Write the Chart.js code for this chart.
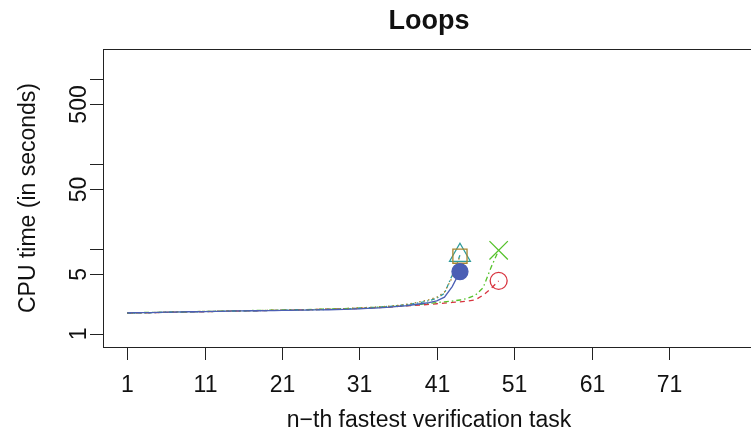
<!DOCTYPE html>
<html>
<head>
<meta charset="utf-8">
<script src="https://cdn.jsdelivr.net/npm/chart.js@4/dist/chart.umd.min.js"></script>
<style>
  html, body { margin: 0; padding: 0; background: #fff; overflow: hidden; }
  .contenedor { width: 770px; height: 435px; }
</style>
</head>
<body>
<div class="contenedor"><canvas id="myChart" width="770" height="435"></canvas></div>
<script>
//DATOS
const titulo = 'Loops';
const tituloX = 'n\u2212th fastest verification task';
const tituloY = 'CPU time (in seconds)';
const ticksX = [1, 11, 21, 31, 41, 51, 61, 71];
const ticksY = [1, 5, 10, 50, 100, 500, 1000];
const etiquetasY = [1, 5, 50, 500];

// tiempos ordenados, una lista por herramienta
const tiemposAzul = [
  1.76, 1.77, 1.78, 1.78, 1.79, 1.80, 1.80, 1.81, 1.82, 1.82,
  1.83, 1.84, 1.84, 1.85, 1.86, 1.86, 1.87, 1.87, 1.88, 1.88,
  1.89, 1.89, 1.90, 1.90, 1.91, 1.91, 1.92, 1.93, 1.94, 1.95,
  1.97, 1.99, 2.01, 2.03, 2.06, 2.10, 2.14, 2.20, 2.26, 2.33,
  2.45, 2.70, 3.60, 5.40
];
const tiemposNaranja = [
  1.75, 1.76, 1.77, 1.78, 1.79, 1.80, 1.81, 1.81, 1.82, 1.83,
  1.84, 1.84, 1.85, 1.86, 1.86, 1.87, 1.88, 1.88, 1.89, 1.90,
  1.90, 1.91, 1.92, 1.92, 1.93, 1.94, 1.95, 1.96, 1.98, 2.00,
  2.02, 2.04, 2.06, 2.09, 2.12, 2.16, 2.22, 2.30, 2.40, 2.52,
  2.70, 3.10, 4.60, 8.20
];
const tiemposTurquesa = [
  1.75, 1.76, 1.77, 1.77, 1.78, 1.79, 1.80, 1.80, 1.81, 1.82,
  1.83, 1.83, 1.84, 1.85, 1.85, 1.86, 1.87, 1.87, 1.88, 1.89,
  1.89, 1.90, 1.91, 1.91, 1.92, 1.93, 1.94, 1.95, 1.96, 1.98,
  2.00, 2.02, 2.05, 2.08, 2.11, 2.15, 2.20, 2.27, 2.35, 2.46,
  2.62, 3.00, 4.90, 8.40
];
const tiemposVerde = [
  1.76, 1.77, 1.78, 1.79, 1.79, 1.80, 1.81, 1.82, 1.82, 1.83,
  1.84, 1.84, 1.85, 1.86, 1.87, 1.87, 1.88, 1.89, 1.89, 1.90,
  1.91, 1.92, 1.92, 1.93, 1.94, 1.95, 1.96, 1.97, 1.98, 1.99,
  2.01, 2.03, 2.05, 2.07, 2.09, 2.12, 2.15, 2.19, 2.23, 2.28,
  2.33, 2.38, 2.43, 2.50, 2.62, 2.85, 3.50, 6.00, 9.60
];
const tiemposRojo = [
  1.75, 1.76, 1.77, 1.77, 1.78, 1.79, 1.80, 1.80, 1.81, 1.82,
  1.82, 1.83, 1.84, 1.85, 1.85, 1.86, 1.87, 1.87, 1.88, 1.89,
  1.89, 1.90, 1.91, 1.92, 1.93, 1.94, 1.95, 1.96, 1.97, 1.98,
  1.99, 2.01, 2.03, 2.05, 2.07, 2.10, 2.13, 2.16, 2.19, 2.22,
  2.26, 2.30, 2.34, 2.38, 2.43, 2.52, 2.85, 3.40, 4.20
];

const fuente = '"Liberation Sans", Arial, Helvetica, sans-serif';

//FUNCIONES
function puntos(lista) {
  return lista.map((v, i) => ({ x: i + 1, y: v }));
}

function serie(lista, color, dash, estilo, radio, relleno) {
  const ultimo = lista.length - 1;
  return {
    data: puntos(lista),
    borderColor: color,
    borderWidth: 1.3,
    borderDash: dash,
    tension: 0,
    pointStyle: estilo,
    pointRadius: ctx => ctx.dataIndex === ultimo ? radio : 0,
    pointHoverRadius: 0,
    pointBorderWidth: 1.3,
    pointBorderColor: color,
    pointBackgroundColor: relleno ? color : 'rgba(0,0,0,0)'
  };
}

// ejes al estilo de R, dibujados con las escalas de Chart.js
const ejesR = {
  id: 'ejesR',
  afterDraw(chart) {
    const c = chart.ctx;
    const a = chart.chartArea;
    const sx = chart.scales.x;
    const sy = chart.scales.y;
    c.save();
    c.strokeStyle = '#222';
    c.fillStyle = '#111';
    c.lineWidth = 1;
    c.strokeRect(a.left + 0.5, a.top + 0.5, a.right - a.left, a.bottom - a.top);

    c.font = '23px ' + fuente;
    c.textAlign = 'center';
    c.textBaseline = 'middle';
    ticksX.forEach(v => {
      const px = Math.round(sx.getPixelForValue(v)) + 0.5;
      c.beginPath();
      c.moveTo(px, a.bottom);
      c.lineTo(px, a.bottom + 13);
      c.stroke();
      c.fillText(String(v), px, 386);
    });
    ticksY.forEach(v => {
      const py = Math.round(sy.getPixelForValue(v)) + 0.5;
      c.beginPath();
      c.moveTo(a.left, py);
      c.lineTo(a.left - 13, py);
      c.stroke();
    });
    etiquetasY.forEach(v => {
      const py = sy.getPixelForValue(v);
      c.save();
      c.translate(80, py);
      c.rotate(-Math.PI / 2);
      c.fillText(String(v), 0, 0);
      c.restore();
    });

    const centroX = (a.left + a.right) / 2;
    c.fillText(tituloX, centroX, 421);
    c.save();
    c.translate(29, (a.top + a.bottom) / 2);
    c.rotate(-Math.PI / 2);
    c.fillText(tituloY, 0, 0);
    c.restore();

    c.font = 'bold 27px ' + fuente;
    c.fillText(titulo, centroX, 22);
    c.restore();
  }
};

const ctx = document.getElementById('myChart');

new Chart(ctx, {
  type: 'line',
  data: {
    datasets: [
      serie(tiemposAzul, '#4b5fb4', [], 'circle', 8, true),
      serie(tiemposNaranja, '#a8862e', [1.5, 3], 'rect', 10, false),
      serie(tiemposTurquesa, '#2e9b9b', [4, 2.5, 1.5, 2.5], 'triangle', 12, false),
      serie(tiemposVerde, '#55c22b', [1.5, 3, 5, 3], 'crossRot', 13, false),
      serie(tiemposRojo, '#d8343f', [5, 4], 'circle', 8.5, false)
    ]
  },
  options: {
    responsive: false,
    animation: false,
    devicePixelRatio: 1,
    layout: { padding: { left: 103, top: 49, right: 15, bottom: 88 } },
    plugins: { legend: { display: false }, tooltip: { enabled: false }, title: { display: false } },
    scales: {
      x: { type: 'linear', min: -2.12, max: 82.12, display: false },
      y: { type: 'logarithmic', min: 0.7235, max: 2247, display: false }
    }
  },
  plugins: [ejesR]
});
</script>
</body>
</html>
